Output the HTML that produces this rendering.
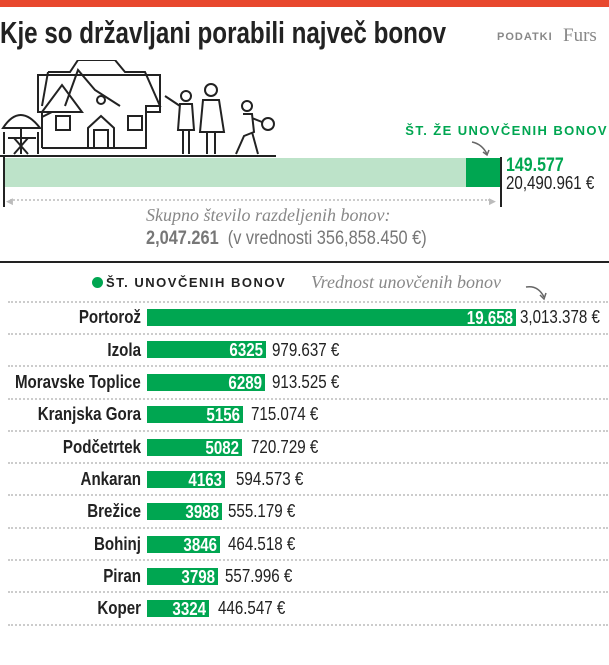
<!DOCTYPE html>
<html><head><meta charset="utf-8"><style>
body{margin:0;width:609px;height:665px;background:#fff;position:relative;overflow:hidden;font-family:"Liberation Sans",sans-serif;color:#222}
.a{position:absolute;white-space:nowrap}
.lab{position:absolute;right:468px;font-weight:bold;font-size:18px;line-height:18px;color:#222;white-space:nowrap;transform:scaleX(0.84);transform-origin:100% 0}
.bar{position:absolute;left:147px;height:17px;background:#00a651;}
.bar span{position:absolute;right:3px;top:0;color:#fff;font-weight:bold;font-size:18px;line-height:18px;white-space:nowrap;transform:scaleX(0.84);transform-origin:100% 0}
.val{position:absolute;font-size:18px;line-height:18px;color:#222;white-space:nowrap;transform:scaleX(0.84);transform-origin:0 0}
.dot{position:absolute;left:8px;width:600px;border-top:2px dotted #ccc}
</style></head><body>
<div class="a" style="left:0;top:0;width:609px;height:7px;background:#e8482e"></div>
<div class="a" style="left:0;top:15px;font-size:31px;font-weight:bold;color:#222;transform:scaleX(0.78);transform-origin:0 0">Kje so državljani porabili največ bonov</div>
<div class="a" style="left:497px;top:31px;font-size:11px;font-weight:bold;color:#888;letter-spacing:1px">PODATKI</div>
<div class="a" style="left:563px;top:25px;font-size:19px;color:#888;font-family:'Liberation Serif',serif">Furs</div>
<svg class="a" style="left:0;top:60px" width="280" height="100" viewBox="0 0 280 100" fill="none" stroke="#222" stroke-width="2">
<line x1="0" y1="96" x2="276" y2="96"/>
<path d="M42 57 L52 52 L38 52 L38 15 L160 15 L160 52 L146 52"/>
<path d="M42 88 L42 52 L82 52 L62 25 L42 52"/>
<path d="M48 12 L70 12 L78 0 L115 0 L125 12 L145 12 L160 46 L146 46 L146 88 L42 88"/>
<path d="M42 46 L48 12"/><path d="M65 46 L78 10 L95 30 L120 46"/>
<circle cx="101" cy="40" r="4"/>
<rect x="56" y="56" width="14" height="14"/><rect x="128" y="56" width="14" height="14"/>
<path d="M88 88 L88 68 L101 56 L114 68 L114 88"/><rect x="94" y="70" width="14" height="18"/>
<path d="M3 68 Q20 42 40 68 Z"/><line x1="21" y1="68" x2="21" y2="94"/><line x1="8" y1="78" x2="36" y2="78"/><path d="M14 94 L28 78 M28 94 L14 78"/><line x1="4" y1="72" x2="4" y2="94"/><line x1="38" y1="72" x2="38" y2="94"/>
<circle cx="186" cy="36" r="5"/><path d="M180 44 L192 44 L194 70 L178 70 Z"/><path d="M165 36 L180 46"/><line x1="183" y1="70" x2="183" y2="94"/><line x1="189" y1="70" x2="189" y2="94"/>
<circle cx="211" cy="30" r="6"/><path d="M203 40 L219 40 L224 72 L200 72 Z"/><line x1="207" y1="72" x2="207" y2="94"/><line x1="215" y1="72" x2="215" y2="94"/>
<circle cx="247" cy="46" r="5"/><path d="M243 54 L252 54 L254 72 L244 76 L236 94 M252 72 L258 94 M252 58 L262 62"/><circle cx="268" cy="64" r="6"/>
</svg>
<div class="a" style="left:384px;top:123px;font-weight:bold;color:#00a651;letter-spacing:1.4px;width:224px;text-align:right;font-size:13px">ŠT. ŽE UNOVČENIH BONOV</div>
<svg class="a" style="left:470px;top:140px" width="30" height="18"><path d="M2 2 Q12 4 17 14" stroke="#666" stroke-width="1.5" fill="none"/><path d="M13 12 L17 15 L19 10" stroke="#666" stroke-width="1.5" fill="none"/></svg>
<div class="a" style="left:4px;top:158px;width:462px;height:29px;background:#bde3c9"></div>
<div class="a" style="left:466px;top:158px;width:34px;height:29px;background:#00a651"></div>
<div class="a" style="left:3px;top:157px;width:1.5px;height:50px;background:#222"></div>
<div class="a" style="left:500px;top:157px;width:2px;height:50px;background:#222"></div>
<div class="a" style="left:10px;top:199px;width:480px;border-top:2px dotted #ccc"></div>
<div class="a" style="left:6px;top:196px;color:#bbb;font-size:9px">◀</div>
<div class="a" style="left:489px;top:196px;color:#bbb;font-size:9px">▶</div>
<div class="a" style="left:506px;top:155px;font-size:19px;font-weight:bold;color:#00a651;transform:scaleX(0.84);transform-origin:0 0">149.577</div>
<div class="a" style="left:506px;top:173px;font-size:18px;color:#222;transform:scaleX(0.84);transform-origin:0 0">20,490.961 €</div>
<div class="a" style="left:146px;top:205px;font-size:18px;font-style:italic;color:#888;font-family:'Liberation Serif',serif">Skupno število razdeljenih bonov:</div>
<div class="a" style="left:146px;top:228px;font-size:19px;color:#777;transform:scaleX(0.86);transform-origin:0 0"><b>2,047.261</b>&nbsp; (v vrednosti 356,858.450 €)</div>
<div class="a" style="left:0;top:261px;width:609px;height:2px;background:#222"></div>
<div class="a" style="left:92px;top:277px;width:11px;height:11px;border-radius:50%;background:#00a651"></div>
<div class="a" style="left:106px;top:275px;font-size:13px;font-weight:bold;letter-spacing:1.5px;color:#222">ŠT. UNOVČENIH BONOV</div>
<div class="a" style="left:311px;top:272px;font-size:18px;font-style:italic;color:#888;font-family:'Liberation Serif',serif">Vrednost unovčenih bonov</div>
<svg class="a" style="left:524px;top:283px" width="26" height="22"><path d="M2 4 Q14 2 20 14" stroke="#666" stroke-width="1.5" fill="none"/><path d="M16 12 L20 16 L22 10" stroke="#666" stroke-width="1.5" fill="none"/></svg>

<div class="dot" style="top:301px"></div>
<div class="lab" style="top:308px">Portorož</div><div class="bar" style="top:309px;width:369px"><span>19.658</span></div><div class="val" style="top:308px;left:520px">3,013.378 €</div>
<div class="dot" style="top:333px"></div>
<div class="lab" style="top:341px">Izola</div><div class="bar" style="top:341px;width:119px"><span>6325</span></div><div class="val" style="top:341px;left:272px">979.637 €</div>
<div class="dot" style="top:365px"></div>
<div class="lab" style="top:373px">Moravske Toplice</div><div class="bar" style="top:374px;width:118px"><span>6289</span></div><div class="val" style="top:373px;left:272px">913.525 €</div>
<div class="dot" style="top:398px"></div>
<div class="lab" style="top:405px">Kranjska Gora</div><div class="bar" style="top:406px;width:96px"><span>5156</span></div><div class="val" style="top:405px;left:251px">715.074 €</div>
<div class="dot" style="top:430px"></div>
<div class="lab" style="top:438px">Podčetrtek</div><div class="bar" style="top:439px;width:95px"><span>5082</span></div><div class="val" style="top:438px;left:251px">720.729 €</div>
<div class="dot" style="top:462px"></div>
<div class="lab" style="top:470px">Ankaran</div><div class="bar" style="top:471px;width:78px"><span>4163</span></div><div class="val" style="top:470px;left:236px">594.573 €</div>
<div class="dot" style="top:494px"></div>
<div class="lab" style="top:502px">Brežice</div><div class="bar" style="top:503px;width:75px"><span>3988</span></div><div class="val" style="top:502px;left:228px">555.179 €</div>
<div class="dot" style="top:527px"></div>
<div class="lab" style="top:535px">Bohinj</div><div class="bar" style="top:536px;width:73px"><span>3846</span></div><div class="val" style="top:535px;left:228px">464.518 €</div>
<div class="dot" style="top:559px"></div>
<div class="lab" style="top:567px">Piran</div><div class="bar" style="top:568px;width:71px"><span>3798</span></div><div class="val" style="top:567px;left:225px">557.996 €</div>
<div class="dot" style="top:591px"></div>
<div class="lab" style="top:599px">Koper</div><div class="bar" style="top:600px;width:62px"><span>3324</span></div><div class="val" style="top:599px;left:218px">446.547 €</div>
<div class="dot" style="top:624px"></div>
</body></html>
